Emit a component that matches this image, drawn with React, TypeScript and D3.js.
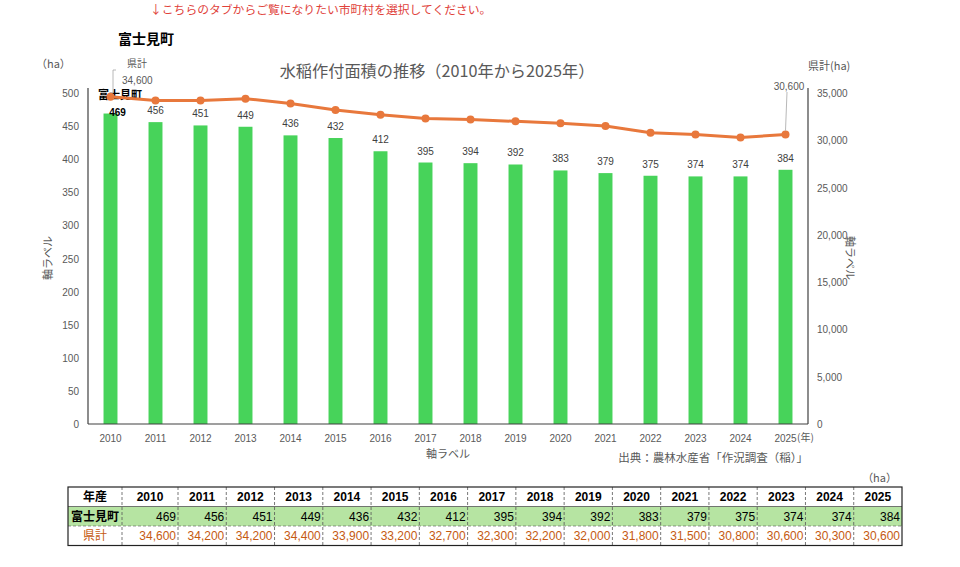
import * as d3 from "d3";

const years = ["2010", "2011", "2012", "2013", "2014", "2015", "2016", "2017", "2018", "2019", "2020", "2021", "2022", "2023", "2024", "2025"];
const townArea = [469, 456, 451, 449, 436, 432, 412, 395, 394, 392, 383, 379, 375, 374, 374, 384];
const prefArea = [34600, 34200, 34200, 34400, 33900, 33200, 32700, 32300, 32200, 32000, 31800, 31500, 30800, 30600, 30300, 30600];
const leftTicks = d3.range(0, 501, 50);
const rightTicks = d3.range(0, 35001, 5000);

const JP = "'Noto Sans CJK JP', 'Noto Sans', sans-serif";
const NUM = "'Liberation Sans', Arial, sans-serif";
const GREEN = "#47d35a";
const ORANGE = "#e8783c";
const GRAY = "#595959";

export default function App() {
  const left = 88, right = 808, top = 93, bottom = 424;
  const x = d3.scaleBand<string>().domain(years).range([left, right]).paddingInner(0.69).paddingOuter(0.345);
  const yL = d3.scaleLinear().domain([0, 500]).range([bottom, top]);
  const yR = d3.scaleLinear().domain([0, 35000]).range([bottom, top]);
  const cx = (y: string) => (x(y) ?? 0) + x.bandwidth() / 2;
  const fmt = d3.format(",");

  const line = d3.line<number>()
    .x((_, i) => cx(years[i]))
    .y((d) => yR(d));

  // table geometry
  const tTop = 487, rowH = 19.5, tLeft = 68, firstW = 54, yearW0 = 56;
  const colX: number[] = [tLeft, tLeft + firstW, tLeft + firstW + yearW0];
  const restW = (902 - colX[2]) / 15;
  for (let i = 1; i <= 15; i++) colX.push(colX[2] + restW * i);
  const tRight = colX[colX.length - 1];
  const tBottom = tTop + rowH * 3;

  return (
    <svg width={960} height={567} style={{ position: "absolute", left: 0, top: 0, background: "#fff" }}>
      <text x={150} y={14} fontFamily={JP} fontSize={11.8} fill="#e0413a">↓こちらのタブからご覧になりたい市町村を選択してください。</text>
      <text x={118} y={44} fontFamily={JP} fontSize={14} fontWeight="bold" fill="#000">富士見町</text>

      <text x={437} y={77} textAnchor="middle" fontFamily={JP} fontSize={16.2} fill={GRAY}>水稲作付面積の推移（2010年から2025年）</text>
      <text x={36} y={68} fontFamily={JP} fontSize={11} fill={GRAY}>（ha）</text>
      <text x={808} y={70} fontFamily={JP} fontSize={11} fill={GRAY}>県計(ha)</text>

      {/* bars */}
      {years.map((yr, i) => (
        <rect key={yr} x={x(yr)} y={yL(townArea[i])} width={x.bandwidth()} height={bottom - yL(townArea[i])} fill={GREEN} />
      ))}

      {/* axes lines */}
      <line x1={left} x2={left} y1={top - 5} y2={bottom} stroke="#404040" strokeWidth={1.2} />
      <line x1={right} x2={right} y1={top - 5} y2={bottom} stroke="#404040" strokeWidth={1.2} />
      <line x1={left} x2={right} y1={bottom} y2={bottom} stroke="#404040" strokeWidth={1.2} />

      {leftTicks.map((t) => (
        <text key={t} x={79} y={yL(t) + 4} textAnchor="end" fontFamily={NUM} fontSize={10} fill={GRAY}>{t}</text>
      ))}
      {rightTicks.map((t) => (
        <text key={t} x={817} y={yR(t) + 4} fontFamily={NUM} fontSize={10} fill={GRAY}>{fmt(t)}</text>
      ))}
      {years.map((yr) => (
        <text key={yr} x={cx(yr)} y={442} textAnchor="middle" fontFamily={NUM} fontSize={10} fill={GRAY}>{yr}</text>
      ))}
      <text x={797} y={441} fontFamily={JP} fontSize={10} fill={GRAY}>(年)</text>
      <text x={448} y={458} textAnchor="middle" fontFamily={JP} fontSize={11} fill={GRAY}>軸ラベル</text>
      <text x={808} y={462} textAnchor="end" fontFamily={JP} fontSize={11.5} fill={GRAY}>出典：農林水産省「作況調査（稲）」</text>
      <text transform="translate(52,258) rotate(-90)" textAnchor="middle" fontFamily={JP} fontSize={11} fill={GRAY}>軸ラベル</text>
      <text transform="translate(846,258) rotate(90)" textAnchor="middle" fontFamily={JP} fontSize={11} fill={GRAY}>軸ラベル</text>

      {/* bar labels */}
      {years.map((yr, i) => (
        <text key={yr} x={i === 0 ? cx(yr) + 7 : cx(yr)} y={i === 0 ? 116 : yL(townArea[i]) - 8} textAnchor="middle"
          fontFamily={NUM} fontSize={10} fontWeight={i === 0 ? "bold" : "normal"} fill={i === 0 ? "#000" : "#404040"}>
          {townArea[i]}
        </text>
      ))}
      <text x={98} y={99} fontFamily={JP} fontSize={11} fontWeight="bold" fill="#000">富士見町</text>

      {/* prefecture line */}
      <path d={line(prefArea) ?? ""} fill="none" stroke={ORANGE} strokeWidth={3} />
      {years.map((yr, i) => (
        <circle key={yr} cx={cx(yr)} cy={yR(prefArea[i])} r={4} fill={ORANGE} />
      ))}

      {/* line labels with leaders */}
      <polyline points={`116,70 113,70 113,${yR(prefArea[0]) - 4}`} fill="none" stroke="#a6a6a6" strokeWidth={0.8} />
      <text x={127} y={67} fontFamily={JP} fontSize={10} fill={GRAY}>県計</text>
      <text x={122} y={84} fontFamily={NUM} fontSize={10} fill={GRAY}>{fmt(prefArea[0])}</text>
      <line x1={787} y1={92} x2={cx("2025")} y2={yR(prefArea[15]) - 4} stroke="#a6a6a6" strokeWidth={0.8} />
      <text x={789} y={90} textAnchor="middle" fontFamily={NUM} fontSize={10} fill={GRAY}>{fmt(prefArea[15])}</text>

      {/* table */}
      <text x={897} y={482} textAnchor="end" fontFamily={JP} fontSize={11} fill={GRAY}>（ha）</text>
      <rect x={colX[0]} y={tTop + rowH} width={tRight - colX[0]} height={rowH} fill="#b6e4a2" />
      {colX.slice(1, -1).map((cxl, i) => (
        <line key={i} x1={cxl} x2={cxl} y1={tTop} y2={tBottom} stroke="#555" strokeWidth={0.8} strokeDasharray="3,2" />
      ))}
      <line x1={colX[0]} x2={tRight} y1={tTop + rowH} y2={tTop + rowH} stroke="#555" strokeWidth={0.8} />
      <line x1={colX[0]} x2={tRight} y1={tTop + rowH * 2} y2={tTop + rowH * 2} stroke="#555" strokeWidth={0.6} strokeDasharray="3,2" />
      <rect x={colX[0]} y={tTop} width={tRight - colX[0]} height={tBottom - tTop} fill="none" stroke="#222" strokeWidth={1.2} />

      <text x={(colX[0] + colX[1]) / 2} y={tTop + 14} textAnchor="middle" fontFamily={JP} fontSize={12} fontWeight="bold" fill="#000">年産</text>
      <text x={(colX[0] + colX[1]) / 2} y={tTop + rowH + 14} textAnchor="middle" fontFamily={JP} fontSize={12} fontWeight="bold" fill="#000">富士見町</text>
      <text x={(colX[0] + colX[1]) / 2} y={tTop + rowH * 2 + 14} textAnchor="middle" fontFamily={JP} fontSize={12} fill="#c55a11">県計</text>
      {years.map((yr, i) => (
        <g key={yr}>
          <text x={(colX[i + 1] + colX[i + 2]) / 2} y={tTop + 14} textAnchor="middle" fontFamily={NUM} fontSize={12} fontWeight="bold" fill="#000">{yr}</text>
          <text x={colX[i + 2] - 2} y={tTop + rowH + 14} textAnchor="end" fontFamily={NUM} fontSize={12} fill="#000">{townArea[i]}</text>
          <text x={colX[i + 2] - 2} y={tTop + rowH * 2 + 14} textAnchor="end" fontFamily={NUM} fontSize={12} fill="#c55a11">{fmt(prefArea[i])}</text>
        </g>
      ))}
    </svg>
  );
}
